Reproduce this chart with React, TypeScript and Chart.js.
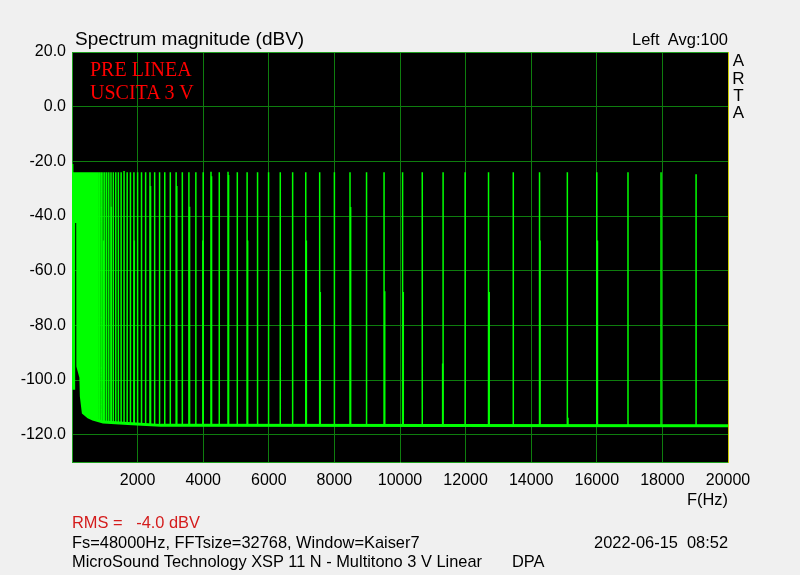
import React, { useEffect, useRef } from 'react';
import { Chart, registerables } from 'chart.js';

Chart.register(...registerables);

// ---- axis ticks ----
const X_TICKS = [2000, 4000, 6000, 8000, 10000, 12000, 14000, 16000, 18000, 20000];
const Y_TICKS = [20, 0, -20, -40, -60, -80, -100, -120];

// ---- multitone tones (Hz) and peak levels (dBV) ----
const TONE_HZ = [
  19.7, 20.9, 22.1, 23.4, 24.8, 26.3, 27.8, 29.5, 31.3, 33.1, 35.1, 37.2,
  39.4, 41.7, 44.2, 46.8, 49.6, 52.6, 55.7, 59.0, 62.5, 66.2, 70.2, 74.3,
  78.7, 83.4, 88.4, 93.6, 99.2, 105.1, 111.4, 118.0, 125.0, 132.4, 140.3, 148.7,
  157.5, 166.9, 176.8, 187.3, 198.4, 210.2, 222.7, 236.0, 250.0, 264.9, 280.6, 297.3,
  315.0, 333.7, 353.6, 374.6, 396.9, 420.4, 445.4, 471.9, 500.0, 529.7, 561.2, 594.6,
  630.0, 667.4, 707.1, 749.2, 793.7, 840.9, 890.9, 943.9,
  1000, 1059, 1122, 1189, 1260, 1335, 1414, 1498, 1587, 1682, 1782, 1888,
  2000, 2119, 2245, 2378, 2520, 2670, 2828, 2997, 3175, 3364, 3564, 3776,
  4000, 4238, 4490, 4757, 5040, 5339, 5657, 5993, 6350, 6727, 7127, 7551,
  8000, 8476, 8980, 9514, 10079, 10679, 11314, 11986, 12699, 13454, 14254, 15102,
  16000, 16951, 17959, 19027,
];
const TONE_DBV = [
  -21, -24, -24, -24, -24, -24, -24, -24, -24, -24, -24, -24,
  -24, -24, -24, -24, -24, -24, -24, -24, -24, -24, -24, -24,
  -24, -24, -24, -24, -24, -24, -24, -24, -24, -24, -24, -24,
  -24, -24, -24, -24, -24, -24, -24, -24, -24, -24, -24, -24,
  -24, -24, -24, -24, -24, -24, -24, -24, -24, -24, -24, -24,
  -24, -24, -24, -24, -24, -24, -24, -24,
  -24, -24, -24, -24, -24, -24, -24, -24, -23.5, -24, -24, -24,
  -24, -24, -24, -24, -24, -24, -24, -24, -24, -24, -24, -24,
  -24, -23.8, -24, -23.8, -24, -24, -24, -24, -24, -24, -24, -24,
  -24, -24, -24, -24, -24, -24, -24, -24, -24, -24, -24, -24,
  -24, -24, -24, -24.7,
];

// ---- secondary (adjacent-bin) lines beside some tones ----
const LEAK_HZ = [960, 1200, 1900, 2395, 3195, 3585, 3990, 4255, 4775, 5355, 7145, 7570, 8495, 9535, 10100, 11300, 12720, 14270, 15120, 16020];
const LEAK_DBV = [-49, -36.6, -49, -29, -29, -36.6, -49, -25.5, -25, -49, -49, -67.8, -36.7, -67.5, -67.8, -94, -67.8, -49, -113.8, -49];

// ---- noise floor between tones ----
const FLOOR_HZ = [0, 45, 50, 113, 116, 174, 178, 270, 285, 345, 500, 640, 950, 1700, 2700, 20000];
const FLOOR_DBV = [-103, -103, -31, -31, -42, -42, -95, -99, -106, -112, -113.5, -114.3, -115.4, -115.9, -116.6, -116.7];

const SANS = '"Liberation Sans", Arial, sans-serif';
const SERIF = '"Liberation Serif", "Times New Roman", serif';

function floorAt(f: number): number {
  for (let i = 1; i < FLOOR_HZ.length; i++) {
    if (f <= FLOOR_HZ[i]) {
      const t = (f - FLOOR_HZ[i - 1]) / (FLOOR_HZ[i] - FLOOR_HZ[i - 1]);
      return FLOOR_DBV[i - 1] + t * (FLOOR_DBV[i] - FLOOR_DBV[i - 1]);
    }
  }
  return FLOOR_DBV[FLOOR_DBV.length - 1];
}

const framePlugin = {
  id: 'frame',
  beforeDraw(chart: any) {
    const { ctx, chartArea: a } = chart;
    ctx.save();
    ctx.fillStyle = '#000000';
    ctx.fillRect(a.left, a.top, a.right - a.left, a.bottom - a.top);
    ctx.restore();
  },
  afterDraw(chart: any) {
    const { ctx, chartArea: a } = chart;
    ctx.save();
    ctx.lineWidth = 1;
    ctx.strokeStyle = '#1f9f1f';
    ctx.beginPath();
    ctx.moveTo(a.left, Math.round(a.top) + 0.5);
    ctx.lineTo(a.right, Math.round(a.top) + 0.5);
    ctx.stroke();
    ctx.strokeStyle = '#cccc00';
    ctx.beginPath();
    ctx.moveTo(Math.round(a.right) + 0.5, a.top);
    ctx.lineTo(Math.round(a.right) + 0.5, a.bottom + 1);
    ctx.stroke();
    ctx.restore();
  },
};

function Txt(props: { x?: number; r?: number; y: number; size: number; lh?: number; color?: string; family?: string; align?: any; w?: number; children: any }) {
  const style: any = {
    position: 'absolute',
    top: props.y,
    fontSize: props.size,
    lineHeight: (props.lh ?? props.size) + 'px',
    fontFamily: props.family ?? SANS,
    color: props.color ?? '#000',
    whiteSpace: 'pre',
    textAlign: props.align ?? 'left',
  };
  if (props.x !== undefined) style.left = props.x;
  if (props.r !== undefined) style.right = props.r;
  if (props.w !== undefined) style.width = props.w;
  return <div style={style}>{props.children}</div>;
}

export default function App() {
  const ref = useRef<HTMLCanvasElement>(null);

  useEffect(() => {
    const canvas = ref.current;
    if (!canvas) return;

    const spikes: any[] = [];
    TONE_HZ.forEach((f, i) => {
      spikes.push({ x: f, y: floorAt(f) }, { x: f, y: TONE_DBV[i] }, { x: f, y: null });
    });
    const leaks: any[] = [];
    LEAK_HZ.forEach((f, i) => {
      leaks.push({ x: f, y: floorAt(f) }, { x: f, y: LEAK_DBV[i] }, { x: f, y: null });
    });
    const floor = FLOOR_HZ.map((f, i) => ({ x: f, y: FLOOR_DBV[i] }));

    const tickFont = { family: SANS, size: 16 };
    const gridColor = '#0e7d0e';
    const borderColor = '#1f9f1f';

    const chart = new Chart(canvas, {
      type: 'line',
      data: {
        datasets: [
          { data: floor, borderColor: '#00ff00', borderWidth: 3, pointRadius: 0, tension: 0 } as any,
          { data: spikes, borderColor: '#00ff00', borderWidth: 1.5, pointRadius: 0, spanGaps: false } as any,
          { data: leaks, borderColor: '#00ff00', borderWidth: 1.5, pointRadius: 0, spanGaps: false } as any,
        ],
      },
      options: {
        animation: false,
        responsive: false,
        devicePixelRatio: 1,
        events: [],
        parsing: false as any,
        layout: { padding: { top: 52, right: 72, left: 0, bottom: 0 } },
        plugins: { legend: { display: false }, tooltip: { enabled: false }, title: { display: false } },
        scales: {
          x: {
            type: 'linear',
            min: 0,
            max: 20000,
            afterBuildTicks: (s: any) => { s.ticks = X_TICKS.map((v) => ({ value: v })); },
            afterFit: (s: any) => { s.height = 113; },
            grid: { color: gridColor, drawTicks: false, lineWidth: 1 },
            border: { color: borderColor, width: 1 },
            ticks: { font: tickFont, color: '#000', padding: 9, maxRotation: 0, autoSkip: false, callback: (v: any) => String(v) },
          },
          y: {
            type: 'linear',
            min: -130,
            max: 20,
            afterBuildTicks: (s: any) => { s.ticks = Y_TICKS.map((v) => ({ value: v })); },
            afterFit: (s: any) => { s.width = 72; },
            grid: { color: gridColor, drawTicks: false, lineWidth: 1 },
            border: { color: borderColor, width: 1 },
            ticks: { font: tickFont, color: '#000', padding: 6, autoSkip: false, callback: (v: any) => Number(v).toFixed(1) },
          },
        },
      } as any,
      plugins: [framePlugin],
    });
    return () => chart.destroy();
  }, []);

  return (
    <div style={{ position: 'absolute', left: 0, top: 0, width: 800, height: 575, background: '#f0f0f0', overflow: 'hidden' }}>
      <canvas ref={ref} width={800} height={575} style={{ position: 'absolute', left: 0, top: 0 }} />
      <Txt x={75} y={28.5} size={19}>Spectrum magnitude (dBV)</Txt>
      <Txt r={72} y={30.5} size={16.5}>{'Left  Avg:100'}</Txt>
      <Txt x={728.5} w={20} align="center" y={52.3} size={17} lh={17.3}>{'A\nR\nT\nA'}</Txt>
      <Txt x={90} y={58.4} size={20} lh={22.7} family={SERIF} color="#ff0000">{'PRE LINEA\nUSCITA 3 V'}</Txt>
      <Txt r={72} y={491} size={16.4}>F(Hz)</Txt>
      <Txt x={72} y={514} size={16.4} color="#d41c1c">{'RMS =   -4.0 dBV'}</Txt>
      <Txt x={72} y={534} size={16.4}>Fs=48000Hz, FFTsize=32768, Window=Kaiser7</Txt>
      <Txt r={72} y={534} size={16.4}>{'2022-06-15  08:52'}</Txt>
      <Txt x={72} y={553} size={16.4}>MicroSound Technology XSP 11 N - Multitono 3 V Linear</Txt>
      <Txt x={512} y={553} size={16.4}>DPA</Txt>
    </div>
  );
}
